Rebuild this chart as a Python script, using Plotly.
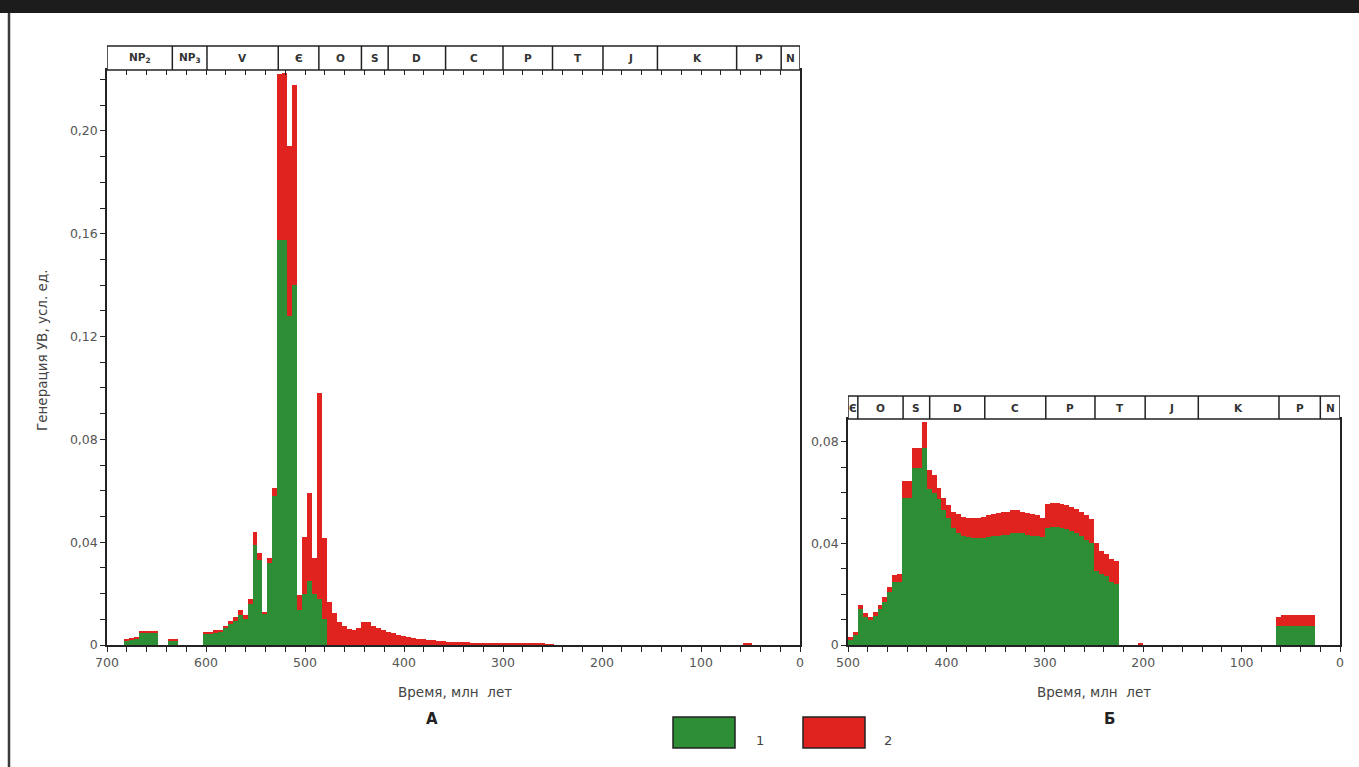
import plotly.graph_objects as go

# ---------------- DATA ----------------
# Chart A: bin centres (Ma), 5-Ma bins; series 1 (green) and 2 (red, stacked on top)
a_age = [680.5, 675.5, 670.5, 665.5, 660.5, 655.5, 650.5, 635.5, 630.5,
         600.5, 595.5, 590.5, 585.5, 580.5, 575.5, 570.5, 565.5, 560.5, 555.5,
         550.5, 545.5, 540.5, 535.5, 530.5, 525.5, 520.5, 515.5, 510.5, 505.5,
         500.5, 495.5, 490.5, 485.5, 480.5, 475.5, 470.5, 465.5, 460.5, 455.5,
         450.5, 445.5, 440.5, 435.5, 430.5, 425.5, 420.5, 415.5, 410.5, 405.5,
         400.5, 395.5, 390.5, 385.5, 380.5, 375.5, 370.5, 365.5, 360.5, 355.5,
         350.5, 345.5, 340.5, 335.5, 330.5, 325.5, 320.5, 315.5, 310.5, 305.5,
         300.5, 295.5, 290.5, 285.5, 280.5, 275.5, 270.5, 265.5, 260.5, 255.5,
         250.5, 55.5, 50.5]
a_s1 = [0.0018, 0.0022, 0.0025, 0.0045, 0.0045, 0.0046, 0.0046, 0.0018, 0.0016,
        0.0045, 0.0045, 0.0050, 0.0052, 0.0065, 0.0080, 0.0095, 0.0115, 0.0100, 0.0160,
        0.0390, 0.0330, 0.0120, 0.0320, 0.0580, 0.1575, 0.1575, 0.1280, 0.1400, 0.0136,
        0.0200, 0.0250, 0.0200, 0.0180, 0.0100, 0, 0, 0, 0, 0,
        0, 0, 0, 0, 0, 0, 0, 0, 0, 0,
        0, 0, 0, 0, 0, 0, 0, 0, 0, 0,
        0, 0, 0, 0, 0, 0, 0, 0, 0, 0,
        0, 0, 0, 0, 0, 0, 0, 0, 0, 0,
        0, 0, 0]
a_s2 = [0.0004, 0.0004, 0.0005, 0.0008, 0.0009, 0.0009, 0.0009, 0.0005, 0.0004,
        0.0005, 0.0006, 0.0007, 0.0008, 0.0010, 0.0012, 0.0015, 0.0020, 0.0015, 0.0020,
        0.0048, 0.0027, 0.0010, 0.0020, 0.0030, 0.0645, 0.0650, 0.0660, 0.0780, 0.0058,
        0.0220, 0.0340, 0.0140, 0.0800, 0.0315, 0.0167, 0.0124, 0.0090, 0.0072, 0.0062,
        0.0060, 0.0065, 0.0090, 0.0088, 0.0075, 0.0066, 0.0060, 0.0052, 0.0046, 0.0040,
        0.0035, 0.0031, 0.0027, 0.0024, 0.0022, 0.0020, 0.0018, 0.0016, 0.0014, 0.0013,
        0.0012, 0.0011, 0.0010, 0.0010, 0.0009, 0.0009, 0.0008, 0.0007, 0.0007, 0.0006,
        0.0006, 0.0006, 0.0005, 0.0005, 0.0005, 0.0005, 0.0004, 0.0004, 0.0004, 0.0003,
        0.0003, 0.0005, 0.0004]

# Chart B
b_age = [497.5, 492.5, 487.5, 482.5, 477.5, 472.5, 467.5, 462.5, 457.5, 452.5,
         447.5, 442.5, 437.5, 432.5, 427.5, 422.5, 417.5, 412.5, 407.5, 402.5,
         397.5, 392.5, 387.5, 382.5, 377.5, 372.5, 367.5, 362.5, 357.5, 352.5,
         347.5, 342.5, 337.5, 332.5, 327.5, 322.5, 317.5, 312.5, 307.5, 302.5,
         297.5, 292.5, 287.5, 282.5, 277.5, 272.5, 267.5, 262.5, 257.5, 252.5,
         247.5, 242.5, 237.5, 232.5, 227.5, 202.5,
         62.5, 57.5, 52.5, 47.5, 42.5, 37.5, 32.5, 27.5]
b_s1 = [0.0020, 0.0040, 0.0140, 0.0110, 0.0098, 0.0115, 0.0140, 0.0170, 0.0210, 0.0250,
        0.0250, 0.0580, 0.0580, 0.0698, 0.0698, 0.0777, 0.0615, 0.0600, 0.0575, 0.0530,
        0.0500, 0.0460, 0.0440, 0.0430, 0.0425, 0.0420, 0.0420, 0.0420, 0.0425, 0.0430,
        0.0430, 0.0435, 0.0435, 0.0440, 0.0440, 0.0440, 0.0435, 0.0430, 0.0430, 0.0425,
        0.0460, 0.0465, 0.0465, 0.0460, 0.0455, 0.0450, 0.0440, 0.0430, 0.0415, 0.0400,
        0.0290, 0.0280, 0.0270, 0.0250, 0.0240, 0.0,
        0.0074, 0.0075, 0.0075, 0.0075, 0.0075, 0.0075, 0.0075, 0.0075]
b_s2 = [0.0010, 0.0010, 0.0017, 0.0015, 0.0012, 0.0015, 0.0017, 0.0020, 0.0020, 0.0025,
        0.0030, 0.0067, 0.0067, 0.0079, 0.0079, 0.0103, 0.0075, 0.0070, 0.0045, 0.0050,
        0.0050, 0.0065, 0.0075, 0.0073, 0.0075, 0.0080, 0.0080, 0.0085, 0.0085, 0.0085,
        0.0090, 0.0090, 0.0090, 0.0090, 0.0090, 0.0085, 0.0085, 0.0085, 0.0080, 0.0075,
        0.0095, 0.0095, 0.0095, 0.0095, 0.0095, 0.0095, 0.0095, 0.0095, 0.0095, 0.0095,
        0.0110, 0.0090, 0.0090, 0.0090, 0.0090, 0.0005,
        0.0036, 0.0043, 0.0043, 0.0043, 0.0043, 0.0043, 0.0043, 0.0043]

# Stratigraphic columns (boundaries in Ma, labels)
a_strat_edges = [700, 634, 599, 527, 486, 443, 416, 358, 300, 250, 199, 144, 64, 19, 0]
a_strat_labels = ["NP<sub>2</sub>", "NP<sub>3</sub>", "V", "Є", "O", "S", "D", "C",
                  "P", "T", "J", "K", "P", "N"]
b_strat_edges = [500, 490, 444, 417, 361, 299, 249, 198, 144, 62, 20, 0]
b_strat_labels = ["Є", "O", "S", "D", "C", "P", "T", "J", "K", "P", "N"]

a_yticks = [0, 0.04, 0.08, 0.12, 0.16, 0.20]
a_yticktext = ["0", "0,04", "0,08", "0,12", "0,16", "0,20"]
b_yticks = [0, 0.04, 0.08]
b_yticktext = ["0", "0,04", "0,08"]
a_xticks = [700, 600, 500, 400, 300, 200, 100, 0]
b_xticks = [500, 400, 300, 200, 100, 0]

# ---------------- STYLE / LAYOUT ----------------
W, H = 1359, 767
def px(v): return v / W
def py(v): return 1 - v / H

GREEN = "#2e8e36"
RED = "#e0231f"
AXC = "#222222"
TXT = "#555555"
FONT = "DejaVu Sans"

fig = go.Figure()
fig.add_trace(go.Bar(x=a_age, y=a_s1, width=5, marker=dict(color=GREEN, line=dict(width=0)),
                     xaxis="x", yaxis="y", showlegend=False))
fig.add_trace(go.Bar(x=a_age, y=a_s2, width=5, marker=dict(color=RED, line=dict(width=0)),
                     xaxis="x", yaxis="y", showlegend=False))
fig.add_trace(go.Bar(x=b_age, y=b_s1, width=5, marker=dict(color=GREEN, line=dict(width=0)),
                     xaxis="x2", yaxis="y2", showlegend=False))
fig.add_trace(go.Bar(x=b_age, y=b_s2, width=5, marker=dict(color=RED, line=dict(width=0)),
                     xaxis="x2", yaxis="y2", showlegend=False))
# carrier for the top tick axis of chart A
fig.add_trace(go.Scatter(x=[None], y=[None], xaxis="x3", yaxis="y", showlegend=False,
                         hoverinfo="skip"))

A_top, A_bot, A_l, A_r = 70, 645, 107, 800
B_top, B_bot, B_l, B_r = 419, 645, 848, 1340

axis_common = dict(showline=True, linecolor=AXC, linewidth=1.5, mirror=True,
                   ticks="outside", ticklen=5, tickwidth=1.2, tickcolor=AXC,
                   showgrid=False, zeroline=False, automargin=False,
                   tickfont=dict(family=FONT, size=12.5, color=TXT))

fig.update_layout(
    width=W, height=H, margin=dict(l=0, r=0, t=0, b=0, autoexpand=False),
    paper_bgcolor="white", plot_bgcolor="white",
    barmode="stack", bargap=0, showlegend=False,
    xaxis=dict(domain=[px(A_l), px(A_r)], anchor="y", range=[700, 0],
               tickvals=a_xticks, ticktext=[str(v) for v in a_xticks],
               minor=dict(dtick=20, tick0=0, ticks="outside", ticklen=5, tickcolor=AXC),
               **axis_common),
    yaxis=dict(domain=[py(A_bot), py(A_top)], anchor="x", range=[0, 0.2237],
               tickvals=a_yticks, ticktext=a_yticktext,
               minor=dict(dtick=0.01, tick0=0, ticks="outside", ticklen=5, tickcolor=AXC),
               **axis_common),
    xaxis3=dict(overlaying="x", anchor="y", side="top", range=[700, 0],
                tickmode="linear", tick0=0, dtick=20, ticks="inside", ticklen=5,
                tickcolor=AXC, tickwidth=1.2, showticklabels=False, showline=False,
                showgrid=False, zeroline=False),
    xaxis2=dict(domain=[px(B_l), px(B_r)], anchor="y2", range=[500, 0],
                tickvals=b_xticks, ticktext=[str(v) for v in b_xticks],
                minor=dict(dtick=20, tick0=0, ticks="outside", ticklen=5, tickcolor=AXC),
                **axis_common),
    yaxis2=dict(domain=[py(B_bot), py(B_top)], anchor="x2", range=[0, 0.089],
                tickvals=b_yticks, ticktext=b_yticktext,
                minor=dict(dtick=0.01, tick0=0, ticks="outside", ticklen=5, tickcolor=AXC),
                **axis_common),
)

shapes = []
annotations = []

def label(x, y, text, size, color, xref="paper", angle=0):
    return dict(xref=xref, yref="paper", x=x, y=y, text=text, showarrow=False,
                xanchor="center", yanchor="middle", textangle=angle,
                font=dict(family=FONT, size=size, color=color))

def strat(edges, labels, xref, y0, y1):
    shapes.append(dict(type="rect", xref=xref, yref="paper", x0=edges[0], x1=edges[-1],
                       y0=py(y1), y1=py(y0), line=dict(color=AXC, width=1.5),
                       fillcolor="white", layer="above"))
    for e in edges[1:-1]:
        shapes.append(dict(type="line", xref=xref, yref="paper", x0=e, x1=e,
                           y0=py(y1), y1=py(y0), line=dict(color=AXC, width=1.5)))
    for i, lab in enumerate(labels):
        annotations.append(label((edges[i] + edges[i + 1]) / 2, py((y0 + y1) / 2),
                                 "<b>" + lab + "</b>", 10.5, "#333", xref=xref))

strat(a_strat_edges, a_strat_labels, "x", 46, A_top)
strat(b_strat_edges, b_strat_labels, "x2", 396, B_top)

# frame of the page
shapes.append(dict(type="rect", xref="paper", yref="paper", x0=0, x1=1, y0=py(13), y1=1,
                   fillcolor="#1c1c1c", line=dict(width=0)))
shapes.append(dict(type="line", xref="paper", yref="paper", x0=px(9), x1=px(9), y0=0,
                   y1=py(13), line=dict(color="#3a3a3a", width=2.5)))

# legend
for x0, col, lab, lx in [(673, GREEN, "1", 760), (803, RED, "2", 888)]:
    shapes.append(dict(type="rect", xref="paper", yref="paper", x0=px(x0), x1=px(x0 + 62),
                       y0=py(748), y1=py(717), fillcolor=col,
                       line=dict(color="#222", width=1.5)))
    annotations.append(label(px(lx), py(740), lab, 13, "#444"))

# axis titles and panel letters
annotations += [
    label(px(455), py(692), "Время, млн\u00a0 лет", 13.5, "#444"),
    label(px(1094), py(692), "Время, млн\u00a0 лет", 13.5, "#444"),
    label(px(432), py(719), "<b>А</b>", 15, "#222"),
    label(px(1109), py(719), "<b>Б</b>", 15, "#222"),
    label(px(42), py(350), "Генерация УВ, усл. ед.", 13.5, "#444", angle=-90),
]

fig.update_layout(shapes=shapes, annotations=annotations)
fig.write_html("out.html", config={"displayModeBar": False},
               post_script="document.body.style.margin='0';document.body.style.overflow='hidden';")
